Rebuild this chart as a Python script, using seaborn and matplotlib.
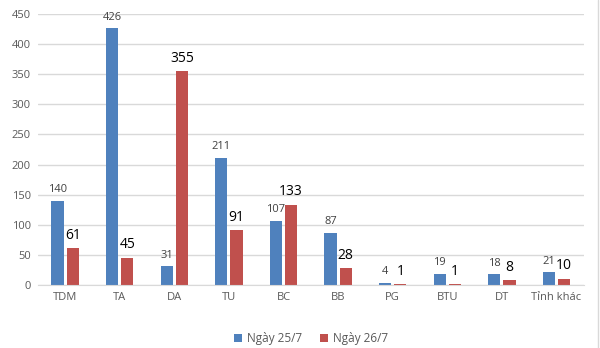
import matplotlib
matplotlib.use("Agg")
import matplotlib.pyplot as plt
import seaborn as sns
import pandas as pd
from matplotlib.lines import Line2D

categories = ["TDM", "TA", "DA", "TU", "BC", "BB", "PG", "BTU", "DT", "Tỉnh khác"]
series_names = ["Ngày 25/7", "Ngày 26/7"]
values_25 = [140, 426, 31, 211, 107, 87, 4, 19, 18, 21]
values_26 = [61, 45, 355, 91, 133, 28, 1, 1, 8, 10]
yticks = [0, 50, 100, 150, 200, 250, 300, 350, 400, 450]

colors = ["#4F81BD", "#C0504D"]

df = pd.DataFrame({
    "cat": categories * 2,
    "series": [series_names[0]] * len(categories) + [series_names[1]] * len(categories),
    "value": values_25 + values_26,
})

sns.set_style("white")
plt.rcParams["font.family"] = ["Open Sans", "DejaVu Sans"]

fig = plt.figure(figsize=(6, 3.48), dpi=100)
ax = fig.add_axes([0.063, 0.181, 0.91, 0.779])

sns.barplot(data=df, x="cat", y="value", hue="series", palette=colors,
            width=0.56, gap=0.2, ax=ax, legend=True, saturation=1,
            edgecolor="none")

ax.set_ylim(0, 450)
ax.set_yticks(yticks)
ax.set_xlim(-0.5, len(categories) - 0.5)
ax.yaxis.grid(True, color="#D9D9D9", linewidth=1)
ax.set_axisbelow(True)
for s in ["top", "right", "left"]:
    ax.spines[s].set_visible(False)
ax.spines["bottom"].set_color("#D9D9D9")
ax.tick_params(axis="both", length=0, labelsize=8, labelcolor="#595959", pad=5)
ax.set_xlabel("")
ax.set_ylabel("")

cont_blue, cont_red = ax.containers[0], ax.containers[1]
ax.bar_label(cont_blue, labels=[str(v) for v in values_25], padding=4,
             fontsize=8, color="#404040")
ax.bar_label(cont_red, labels=[str(v) for v in values_26], padding=4,
             fontsize=10, color="#000000")

handles, labels = ax.get_legend_handles_labels()
ax.legend(handles, labels, loc="upper center", bbox_to_anchor=(0.5, -0.135),
          ncol=2, frameon=False, fontsize=8.5, handlelength=0.7, handleheight=0.7,
          columnspacing=1.5, handletextpad=0.4, labelcolor="#595959")

fig.add_artist(Line2D([0.997, 0.997], [0, 1], transform=fig.transFigure,
                      color="#D9D9D9", linewidth=1))

fig.savefig("out.png", dpi=100)
